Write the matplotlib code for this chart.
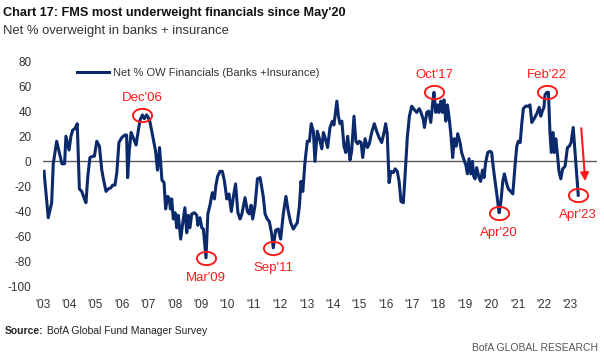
import matplotlib
matplotlib.use('Agg')
import matplotlib.pyplot as plt
import numpy as np
from matplotlib.path import Path
from matplotlib.transforms import offset_copy

FAMILY = ['Liberation Sans Narrow', 'Liberation Sans', 'DejaVu Sans']
plt.rcParams['font.family'] = FAMILY

# ---------------- data (decimal year, net % overweight) ----------------
dates = [
    2003.05, 2003.21, 2003.34, 2003.40, 2003.53, 2003.63, 2003.73, 2003.83, 2003.88, 2004.00,
    2004.07, 2004.14, 2004.22, 2004.31, 2004.39, 2004.48, 2004.58, 2004.64, 2004.71, 2004.79,
    2004.90, 2004.96, 2005.05, 2005.15, 2005.24, 2005.30, 2005.40, 2005.49, 2005.59, 2005.65,
    2005.74, 2005.81, 2005.89, 2006.00, 2006.12, 2006.18, 2006.22, 2006.28, 2006.35, 2006.43,
    2006.54, 2006.62, 2006.69, 2006.78, 2006.85, 2006.94, 2007.00, 2007.07,
    2007.19, 2007.28, 2007.35, 2007.43, 2007.52, 2007.60, 2007.66, 2007.74, 2007.80, 2007.84,
    2007.89, 2007.95, 2008.02, 2008.08, 2008.14, 2008.23, 2008.31, 2008.39, 2008.46, 2008.52,
    2008.58, 2008.65, 2008.75, 2008.84, 2008.88, 2008.96, 2009.03, 2009.09, 2009.19, 2009.26,
    2009.34, 2009.43, 2009.51, 2009.56, 2009.63, 2009.72, 2009.81, 2009.89, 2009.98, 2010.06,
    2010.15, 2010.23, 2010.31,
    2010.40, 2010.48, 2010.54, 2010.67, 2010.76, 2010.83, 2010.90, 2010.96, 2011.05, 2011.14,
    2011.24, 2011.36, 2011.43, 2011.51, 2011.59, 2011.68, 2011.74, 2011.83, 2011.93, 2012.02,
    2012.12, 2012.22, 2012.31, 2012.40, 2012.50, 2012.56, 2012.65, 2012.73, 2012.79, 2012.86,
    2012.94, 2013.03, 2013.11, 2013.18, 2013.26, 2013.32, 2013.41, 2013.49, 2013.58, 2013.64,
    2013.73, 2013.80, 2013.89,
    2013.98, 2014.04, 2014.15, 2014.21, 2014.27, 2014.34, 2014.42, 2014.49, 2014.56, 2014.65,
    2014.71, 2014.80, 2014.87, 2014.94, 2015.00, 2015.07, 2015.13, 2015.22, 2015.31, 2015.38,
    2015.47, 2015.57, 2015.66, 2015.75, 2015.85, 2015.95, 2016.00, 2016.06, 2016.13, 2016.20,
    2016.29, 2016.36, 2016.44, 2016.51, 2016.58, 2016.67, 2016.74, 2016.82, 2016.90, 2016.99,
    2017.09, 2017.18, 2017.27, 2017.34, 2017.43,
    2017.47, 2017.56, 2017.63, 2017.71, 2017.79, 2017.83, 2017.90, 2017.96, 2018.02, 2018.09,
    2018.15, 2018.21, 2018.28, 2018.34, 2018.40, 2018.47, 2018.54, 2018.60, 2018.67, 2018.73,
    2018.82, 2018.88, 2018.94, 2019.04, 2019.10, 2019.16, 2019.23, 2019.29, 2019.34, 2019.39,
    2019.45, 2019.54, 2019.60, 2019.67, 2019.73, 2019.79, 2019.87, 2019.96, 2020.02, 2020.08,
    2020.15, 2020.23, 2020.30, 2020.36, 2020.44, 2020.50, 2020.59, 2020.65, 2020.74, 2020.82,
    2020.91, 2020.97, 2021.03, 2021.10, 2021.16, 2021.22, 2021.31, 2021.41, 2021.47, 2021.54,
    2021.63, 2021.73, 2021.82, 2021.88, 2021.94, 2022.00, 2022.04, 2022.11, 2022.17, 2022.23,
    2022.28, 2022.34, 2022.39, 2022.45, 2022.51, 2022.57, 2022.64, 2022.71, 2022.80, 2022.89,
    2022.96, 2023.03, 2023.11, 2023.30,
]
values = [
    -8, -45, -33, -2, 16, 7, -2, -2, 20, 9,
    20, 25, 26, 30, -22, -24, -30, -33, -12, 3,
    4, 4, 16, 12, -7, -14, -24, -22, -21, -19,
    -19, -9, 15, 19, 21, 21, -13, 8, 23, 19,
    13, 24, 33, 37, 34, 37, 35, 31,
    18, 8, -7, 11, -15, -17, -38, -28, -30, -38,
    -30, -46, -41, -53, -43, -62, -49, -37, -57, -43,
    -53, -42, -41, -43, -51, -45, -53, -54, -77, -42,
    -35, -25, -30, -20, -12, -8, -8, -16, -30, -26,
    -40, -28, -18,
    -41, -46, -43, -29, -40, -42, -35, -46, -35, -14,
    -13, -28, -42, -46, -48, -58, -69, -55, -54, -62,
    -42, -28, -40, -49, -54, -52, -49, -36, -16, -24,
    -1, 16, 16, 30, 24, 0, 24, 18, 10, 23,
    17, 11, 27,
    32, 29, 48, 36, 30, 32, 12, 7, 20, 1,
    8, 36, 16, 14, 16, 15, 3, 18, 11, 14,
    23, 30, 24, 19, 15, 24, 30, 22, -17, -8,
    -9, -6, -8, -16, -32, -33, -10, 19, 36, 44,
    41, 39, 42, 39, 33,
    27, 39, 40, 31, 48, 55, 39, 45, 39, 48,
    39, 49, 32, 45, 36, 22, 3, 18, 12, 22,
    15, 7, 3, -3, -10, 2, -10, 0, -12, -14,
    -5, -13, -16, -7, -13, -1, 7, 8, 7, -5,
    -16, -29, -41, -34, -16, -10, -18, -22, -24, -26,
    -2, 12, 16, 15, 30, 42, 44, 44, 45, 31,
    34, 38, 43, 36, 40, 43, 53, 55, 55, 22,
    7, 23, 7, 18, 6, -8, -14, -6, -4, 11,
    12, 15, 27, -27,
]

years = list(range(2003, 2024))
year_labels = ["'%02d" % (y % 100) for y in years]
y_ticks = list(range(-100, 81, 20))

# annotated points: label, approximate date, peak (True) or trough (False)
ann_labels = ["Dec'06", "Mar'09", "Sep'11", "Oct'17", "Apr'20", "Feb'22", "Apr'23"]
ann_dates = [2006.92, 2009.17, 2011.67, 2017.75, 2020.25, 2022.08, 2023.25]
ann_above = [True, False, False, True, False, True, False]

legend_label = "Net % OW Financials (Banks +Insurance)"
title = "Chart 17: FMS most underweight financials since May'20"
subtitle = "Net % overweight in banks + insurance"

# ---------------- styles ----------------
NAVY = '#0B2A6C'
RED = '#FF1A1A'
TXT = '#333333'

W, H = 604, 361
fig = plt.figure(figsize=(W / 100, H / 100), dpi=100)
ax = fig.add_axes([42.7 / W, 1 - 286.7 / H, 554 / W, 225.7 / H])

ax.set_xlim(2003.0, 2024.0)
ax.set_ylim(-100, 80)
ax.axhline(0, color='#5a5a5a', lw=1.0, zorder=1)
ax.plot(dates, values, color=NAVY, lw=2.2, solid_joinstyle='round',
        label=legend_label, zorder=3)

for s in ax.spines.values():
    s.set_visible(False)
ax.set_yticks(y_ticks)
ax.set_yticklabels([str(v) for v in y_ticks])
ax.set_xticks(years)
ax.set_xticklabels(year_labels)
ax.tick_params(axis='both', length=0, labelsize=8.5, colors=TXT)
ax.tick_params(axis='y', pad=8)
ax.tick_params(axis='x', pad=9)

leg = ax.legend(loc='center left', bbox_to_anchor=(0.062, 0.948), frameon=False,
                fontsize=8, handlelength=2.9, handletextpad=0.3,
                borderpad=0, borderaxespad=0)
for t in leg.get_texts():
    t.set_color(TXT)

# ellipse marker
theta = np.linspace(0, 2 * np.pi, 60)
ell = Path(np.column_stack([np.cos(theta), 0.69 * np.sin(theta)]))

d_arr = np.array(dates)
v_arr = np.array(values)
for lab, dt, above in zip(ann_labels, ann_dates, ann_above):
    idx_all = np.where(np.abs(d_arr - dt) < 0.2)[0]
    if above:
        i = idx_all[np.argmax(v_arr[idx_all])]
    else:
        i = idx_all[np.argmin(v_arr[idx_all])]
    ax.plot(d_arr[i], v_arr[i], marker=ell, markersize=13.8, markerfacecolor='none',
            markeredgecolor=RED, markeredgewidth=1.4, zorder=4)
    off = 17 if above else -20
    ax.annotate(lab, (d_arr[i], v_arr[i]), xytext=(0, off), textcoords='offset pixels',
                ha='center', va='center', color=RED, fontsize=9.5, zorder=5)

# red arrow next to the last point
base = (d_arr[-1], v_arr[-1])
tr_end = offset_copy(ax.transData, fig=fig, x=7, y=14, units='dots')
tr_start = offset_copy(ax.transData, fig=fig, x=3, y=67, units='dots')
ax.annotate('', xy=base, xycoords=tr_end, xytext=base, textcoords=tr_start,
            arrowprops=dict(arrowstyle='-|>', color=RED, lw=1.5,
                            mutation_scale=12, shrinkA=0, shrinkB=0), zorder=5)

# titles
fig.text(3 / W, 1 - 12.8 / H, title, fontsize=9.2, fontweight='bold', color='#111111',
         ha='left', va='center')
fig.text(3 / W, 1 - 31 / H, subtitle, fontsize=9.4, color=TXT, ha='left', va='center')

# footer
src = fig.text(5 / W, 1 - 331 / H, "Source:", fontsize=7.5, fontweight='bold',
               color='#222222', ha='left', va='center')
ax.annotate(" BofA Global Fund Manager Survey", xy=(1, 0.5), xycoords=src,
            ha='left', va='center', fontsize=7.5, color='#222222',
            annotation_clip=False)
fig.text(598 / W, 1 - 348.3 / H, "BofA GLOBAL RESEARCH", fontsize=7.5, color='#555555',
         ha='right', va='center')

fig.savefig('out.png', dpi=100)
